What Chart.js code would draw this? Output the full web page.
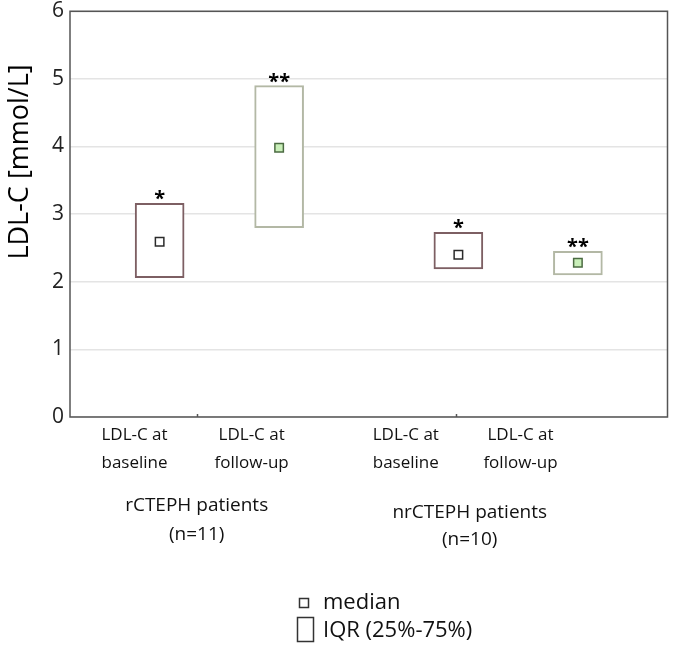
<!DOCTYPE html>
<html>
<head>
<meta charset="utf-8">
<script src="https://cdn.jsdelivr.net/npm/chart.js@4.4.1/dist/chart.umd.min.js"></script>
<style>
  html, body { margin: 0; padding: 0; background: #fff; }
  #wrap { width: 675px; height: 647px; }
</style>
</head>
<body>
<div id="wrap"><canvas id="ldlChart"></canvas></div>
<script>
// data
const categories = [['LDL-C at', 'baseline'], ['LDL-C at', 'follow-up'], ['LDL-C at', 'baseline'], ['LDL-C at', 'follow-up']];
const groups = [['rCTEPH patients', '(n=11)'], ['nrCTEPH patients', '(n=10)']];
const xPositions = [1.5, 3.5, 6.5, 8.5];
const labelPositions = [1.08, 3.04, 5.62, 7.54];
const groupPositions = [2.12, 6.69];
const q1 = [2.06, 2.80, 2.19, 2.10];
const q3 = [3.16, 4.90, 2.73, 2.45];
const medians = [2.59, 3.98, 2.40, 2.28];
const stars = ['*', '**', '*', '**'];
const yTicks = [0, 1, 2, 3, 4, 5, 6];

const FONT = "'Open Sans', 'DejaVu Sans', sans-serif";
const boxColors = ['#7d5f63', '#b3b8a5', '#7d5f63', '#b3b8a5'];
const medianFill = ['#ffffff', '#c9efb9', '#ffffff', '#c9efb9'];
const medianBorder = ['#2b2b2b', '#4b6b42', '#2b2b2b', '#4b6b42'];

const extras = {
    id: 'extras',
    afterDatasetsDraw(chart) {
        const ctx = chart.ctx;
        const bars = chart.getDatasetMeta(0).data;
        ctx.save();
        ctx.fillStyle = '#000';
        ctx.font = 'bold 20px ' + FONT;
        ctx.textAlign = 'center';
        ctx.textBaseline = 'alphabetic';
        bars.forEach((bar, i) => {
            const top = Math.min(bar.y, bar.base);
            ctx.fillText(stars[i], bar.x, top + 2);
        });
        ctx.restore();
    },
    afterDraw(chart) {
        const ctx = chart.ctx;
        const area = chart.chartArea;
        const x = chart.scales.x;
        ctx.save();
        // frame round the plot
        ctx.strokeStyle = '#555';
        ctx.lineWidth = 1.5;
        ctx.strokeRect(area.left, area.top, area.right - area.left, area.bottom - area.top);

        // small ticks on the bottom axis
        groupPositions.forEach((g, i) => {
            const px = Math.round(x.getPixelForValue(i === 0 ? g : g - 0.23)) + 0.5;
            ctx.beginPath();
            ctx.moveTo(px, area.bottom);
            ctx.lineTo(px, area.bottom - 3);
            ctx.stroke();
        });

        // y axis title, sits above the middle of the axis
        ctx.fillStyle = '#000';
        ctx.font = '27px ' + FONT;
        ctx.textAlign = 'center';
        ctx.textBaseline = 'middle';
        ctx.translate(20, 162);
        ctx.rotate(-Math.PI / 2);
        ctx.fillText('LDL-C [mmol/L]', 0, 0);
        ctx.setTransform(1, 0, 0, 1, 0, 0);

        // group labels
        ctx.fillStyle = '#111';
        ctx.font = '19px ' + FONT;
        const groupY = [[89, 118], [96, 123]];
        groups.forEach((g, i) => {
            const px = x.getPixelForValue(groupPositions[i]);
            g.forEach((line, j) => ctx.fillText(line, px, area.bottom + groupY[i][j]));
        });

        // legend
        ctx.strokeStyle = '#333';
        ctx.lineWidth = 1.5;
        ctx.strokeRect(299.5, 598.5, 9, 9);
        ctx.strokeRect(297.5, 617.5, 16, 24);
        ctx.fillStyle = '#111';
        ctx.font = '22px ' + FONT;
        ctx.textAlign = 'left';
        ctx.fillText('median', 323, 603);
        ctx.fillText('IQR (25%-75%)', 323, 631);
        ctx.restore();
    }
};

const ctx = document.getElementById('ldlChart').getContext('2d');

const ldlChart = new Chart(ctx, {
    type: 'bar',
    data: {
        datasets: [{
            type: 'bar',
            label: 'IQR (25%-75%)',
            data: xPositions.map((p, i) => ({ x: p, y: [q1[i], q3[i]] })),
            backgroundColor: '#ffffff',
            borderColor: boxColors,
            borderWidth: 2,
            borderSkipped: false,
            barThickness: 49,
            order: 2
        }, {
            type: 'scatter',
            label: 'median',
            data: xPositions.map((p, i) => ({ x: p, y: medians[i] })),
            pointStyle: 'rect',
            pointRadius: 6,
            pointHoverRadius: 6,
            backgroundColor: medianFill,
            borderColor: medianBorder,
            borderWidth: 1.5,
            order: 1
        }]
    },
    options: {
        responsive: true,
        maintainAspectRatio: false,
        animation: false,
        layout: { padding: { top: 9, right: 7, left: 0, bottom: 0 } },
        plugins: {
            legend: { display: false },
            tooltip: { enabled: false }
        },
        scales: {
            x: {
                type: 'linear',
                min: 0,
                max: 10,
                offset: false,
                afterFit(scale) { scale.height = 230; },
                afterBuildTicks(scale) {
                    scale.ticks = labelPositions.map(v => ({ value: v }));
                },
                grid: { display: false, offset: false, drawTicks: false },
                border: { display: false },
                ticks: {
                    padding: 4,
                    maxRotation: 0,
                    autoSkip: false,
                    color: '#111',
                    font: { family: FONT, size: 17, lineHeight: 1.65 },
                    callback: function(value, index) {
                        return categories[index];
                    }
                }
            },
            y: {
                min: 0,
                max: 6,
                afterFit(scale) { scale.width = 70; },
                afterBuildTicks(scale) {
                    scale.ticks = yTicks.map(v => ({ value: v }));
                },
                grid: { color: '#e4e4e4', lineWidth: 1.5, drawTicks: false },
                border: { display: false },
                ticks: {
                    padding: 6,
                    color: '#222',
                    font: { family: FONT, size: 21, lineHeight: 0.5 }
                }
            }
        }
    },
    plugins: [extras]
});
</script>
</body>
</html>
